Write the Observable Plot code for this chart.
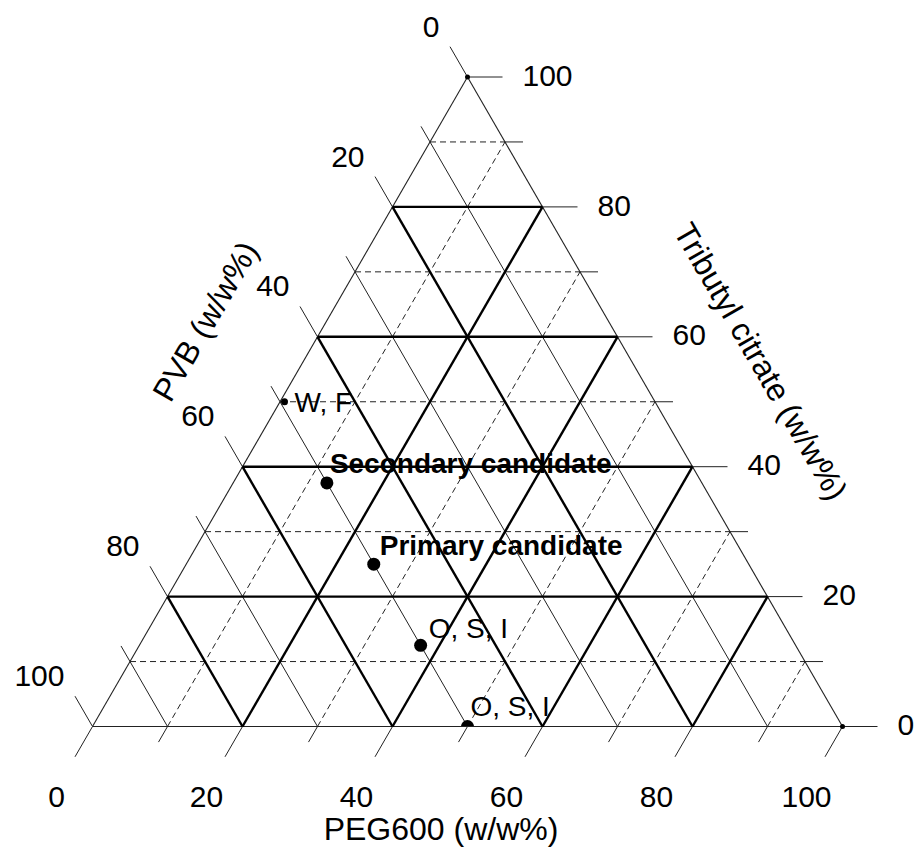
<!DOCTYPE html>
<html><head><meta charset="utf-8">
<script src="https://cdn.jsdelivr.net/npm/d3@7"></script>
<script src="https://cdn.jsdelivr.net/npm/@observablehq/plot@0.6"></script>
<style>body{margin:0;background:#fff;}</style>
</head><body><div id="chart"></div>
<script>
// ---- data ----
const gridLevels = [10, 20, 30, 40, 50, 60, 70, 80, 90];
const tickLevels = [0, 10, 20, 30, 40, 50, 60, 70, 80, 90, 100];
const labelLevels = [0, 20, 40, 60, 80, 100];
const tickLabels = ["0", "20", "40", "60", "80", "100"];
const axisTitles = ["PVB (w/w%)", "PEG600 (w/w%)", "Tributyl citrate (w/w%)"];

const pointNames = ["W, F", "Secondary candidate", "Primary candidate", "O, S, I", "O, S, I"];
const pointPVB = [49.4, 50, 50, 50, 50];
const pointPEG = [0.6, 12.5, 25, 37.5, 50];
const pointTBC = [50, 37.5, 25, 12.5, 0];

const vertexPEG = [0, 100];
const vertexTBC = [100, 0];

// ---- ternary -> cartesian (data units) ----
const S3 = Math.sqrt(3) / 2;
const P = (peg, t) => ({x: peg + t / 2, y: t * S3});
const seg = (a, b, kind) => ({x1: a.x, y1: a.y, x2: b.x, y2: b.y, kind});

const segs = [];
for (const k of gridLevels) {
  const major = k % 20 === 0;
  // Tributyl citrate = k (horizontal)
  segs.push(seg(P(0, k), P(100 - k, k), major ? "thick" : "dash"));
  // PVB = k (parallel to right edge)
  segs.push(seg(P(0, 100 - k), P(100 - k, 0), major ? "thick" : "thin"));
  // PEG = k (parallel to left edge)
  segs.push(seg(P(k, 0), P(k, 100 - k), major ? "thick" : "dash"));
}
// edges
segs.push(seg(P(0, 0), P(100, 0), "edge"));
segs.push(seg(P(0, 0), P(0, 100), "edge"));
segs.push(seg(P(100, 0), P(0, 100), "edge"));

// ticks (pixel lengths converted to data units, 7.5 px per unit)
const PX = 7.5;
for (const k of tickLevels) {
  const L = (k % 20 === 0 ? 35 : 18) / PX;
  const a = P(100 - k, k);
  segs.push(seg(a, {x: a.x + L, y: a.y}, "tick"));
  const b = P(0, 100 - k);
  segs.push(seg(b, {x: b.x - 0.5 * L, y: b.y + S3 * L}, "tick"));
  const c = P(k, 0);
  segs.push(seg(c, {x: c.x - 0.5 * L, y: c.y - S3 * L}, "tick"));
}

const pts = pointNames.map((name, i) => ({name, ...P(pointPEG[i], pointTBC[i]), i}));
const verts = vertexPEG.map((p, i) => P(p, vertexTBC[i]));

const tLab = labelLevels.map((k, i) => ({...P(100 - k, k), label: tickLabels[i]}));
const pvbLab = labelLevels.map((k, i) => ({...P(0, 100 - k), label: tickLabels[i]}));
const pegLab = labelLevels.map((k, i) => ({...P(k, 0), label: tickLabels[i]}));

const FONT = "'Liberation Sans', Arial, Helvetica, sans-serif";
const linkOf = (kind, opts) => Plot.link(segs.filter(d => d.kind === kind), {x1: "x1", y1: "y1", x2: "x2", y2: "y2", ...opts});

const ptLabel = (i, opts) => Plot.text([pts[i]], {x: "x", y: "y", text: "name", textAnchor: "start", fontSize: 28, fill: "black", ...opts});

const chart = Plot.plot({
  width: 915, height: 852,
  marginTop: 0, marginLeft: 0, marginRight: 0, marginBottom: 126,
  x: {domain: [0, 100], range: [92, 842], axis: null},
  y: {domain: [0, 100 * S3], range: [726, 76.5], axis: null},
  style: {fontFamily: FONT, background: "white", color: "black"},
  marks: [
    linkOf("thin", {stroke: "#222", strokeWidth: 1}),
    linkOf("dash", {stroke: "#222", strokeWidth: 1, strokeDasharray: "6,4"}),
    linkOf("edge", {stroke: "#222", strokeWidth: 1.1}),
    linkOf("tick", {stroke: "#222", strokeWidth: 1}),
    linkOf("thick", {stroke: "black", strokeWidth: 2.4}),
    Plot.dot(verts, {x: "x", y: "y", r: 2.5, fill: "black"}),
    Plot.dot(pts.slice(0, 1), {x: "x", y: "y", r: 3.5, fill: "black"}),
    Plot.dot(pts.slice(1, 4), {x: "x", y: "y", r: 6.5, fill: "black"}),
    Plot.dot(pts.slice(4), {x: "x", y: "y", r: 6.5, fill: "black", clip: true}),
    ptLabel(0, {dx: 10, dy: 1}),
    ptLabel(1, {dx: 3, dy: -19, fontWeight: "bold"}),
    ptLabel(2, {dx: 6, dy: -18, fontWeight: "bold"}),
    ptLabel(3, {dx: 8, dy: -16}),
    ptLabel(4, {dx: 3, dy: -19}),
    Plot.text(tLab, {x: "x", y: "y", text: "label", textAnchor: "start", dx: 55, dy: -1, fontSize: 30, fill: "black"}),
    Plot.text(pvbLab, {x: "x", y: "y", text: "label", textAnchor: "end", dx: -28, dy: -50, fontSize: 30, fill: "black"}),
    Plot.text(pegLab, {x: "x", y: "y", text: "label", textAnchor: "middle", dx: -36, dy: 71, fontSize: 30, fill: "black"}),
    Plot.text([P(0, 50)], {x: "x", y: "y", text: [axisTitles[0]], rotate: -60, dx: -74, dy: -80, fontSize: 32, fill: "black"}),
    Plot.text([P(50, 0)], {x: "x", y: "y", text: [axisTitles[1]], dx: -26.5, dy: 103, fontSize: 32, fill: "black"}),
    Plot.text([P(50, 50)], {x: "x", y: "y", text: [axisTitles[2]], rotate: 60, dx: 105, dy: -40, fontSize: 32, fill: "black"})
  ]
});
document.getElementById("chart").appendChild(chart);
</script>
</body></html>
